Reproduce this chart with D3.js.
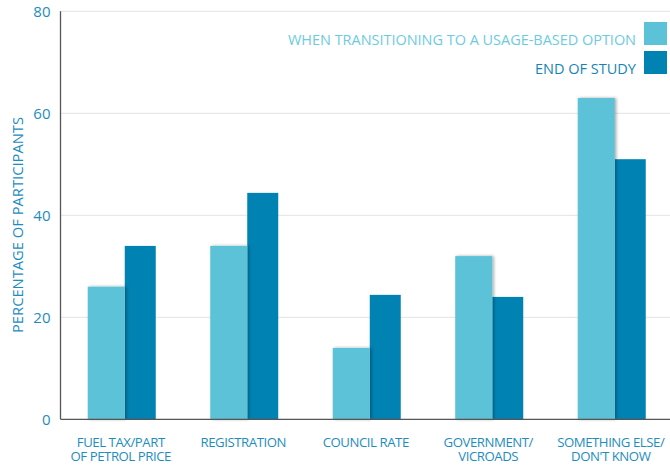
<!DOCTYPE html>
<html><head><meta charset="utf-8">
<script src="https://cdn.jsdelivr.net/npm/d3@7"></script>
<style>body{margin:0;background:#fff}svg{display:block}text{font-family:"Open Sans",sans-serif}</style>
</head><body><svg id="c" width="670" height="465"></svg>
<script>
const categories = [["FUEL TAX/PART","OF PETROL PRICE"],["REGISTRATION"],["COUNCIL RATE"],["GOVERNMENT/","VICROADS"],["SOMETHING ELSE/","DON'T KNOW"]];
const transitioning = [26, 34, 14, 32, 63];
const endOfStudy = [34, 44.4, 24.4, 24, 51];
const yTicks = [0, 20, 40, 60, 80];
const seriesNames = ["WHEN TRANSITIONING TO A USAGE-BASED OPTION", "END OF STUDY"];

(function(){
const light = "#5BC2D7", dark = "#0082B2";
const svg = d3.select("#c");
const defs = svg.append("defs");
const f = defs.append("filter").attr("id","sh").attr("x","-20%").attr("y","-5%").attr("width","150%").attr("height","110%");
f.append("feDropShadow").attr("dx",1.5).attr("dy",0).attr("stdDeviation",1.5).attr("flood-color","#000").attr("flood-opacity",0.35);

const mL = 60.5, mR = 673, mT = 11.3, mB = 419.3;
const y = d3.scaleLinear().domain([0,80]).range([mB, mT]);
const x = d3.scaleBand().domain(d3.range(categories.length)).range([mL, mR]).paddingInner(0.445).paddingOuter(0.2225);
const bw = x.bandwidth();
const lw = bw*37/68;

svg.append("g").selectAll("line").data(yTicks.slice(1)).join("line")
  .attr("x1", mL).attr("x2", 670).attr("y1", d=>y(d)).attr("y2", d=>y(d))
  .attr("stroke","#e3e3e3").attr("stroke-width",1);

const ya = svg.append("g").attr("transform",`translate(${mL},0)`)
  .call(d3.axisLeft(y).tickValues(yTicks).tickSize(0).tickPadding(10));
ya.select(".domain").remove();
ya.selectAll("text").attr("fill","#1D8DBE").attr("font-size",15).attr("font-family","'Open Sans',sans-serif");

const g = svg.append("g");
g.selectAll("rect.d").data(endOfStudy).join("rect").attr("class","d")
  .attr("x",(d,i)=>x(i)+lw).attr("width",bw-lw)
  .attr("y",d=>y(d)).attr("height",d=>mB-y(d)).attr("fill",dark);
g.selectAll("rect.l").data(transitioning).join("rect").attr("class","l")
  .attr("x",(d,i)=>x(i)).attr("width",lw)
  .attr("y",d=>y(d)).attr("height",d=>mB-y(d)).attr("fill",light).attr("filter","url(#sh)");

svg.append("line").attr("x1",mL).attr("x2",mL).attr("y1",mT).attr("y2",mB).attr("stroke","#555").attr("stroke-width",1.3);
svg.append("line").attr("x1",mL).attr("x2",670).attr("y1",mB).attr("y2",mB).attr("stroke","#555").attr("stroke-width",1.3);

const xg = svg.append("g");
categories.forEach((lines,i)=>{
  lines.forEach((t,j)=>{
    xg.append("text").attr("x",x(i)+bw/2-1).attr("y",446.5+j*14.5)
      .attr("text-anchor","middle").attr("fill","#1D8DBE").attr("font-size",13.2)
      .attr("letter-spacing",-0.45).text(t);
  });
});

svg.append("text").attr("transform","translate(23,225) rotate(-90)").attr("text-anchor","middle")
  .attr("fill","#1D8DBE").attr("font-size",14).attr("textLength",216).attr("lengthAdjust","spacingAndGlyphs")
  .text("PERCENTAGE OF PARTICIPANTS");

const leg = svg.append("g");
const lc = [light, dark], tc = ["#6CCBDF", "#1585B7"], lens = [348, 101];
seriesNames.forEach((s,i)=>{
  leg.append("rect").attr("x",644).attr("y",22+i*29).attr("width",23).attr("height",23).attr("fill",lc[i]);
  leg.append("text").attr("x",636).attr("y",45+i*28.5).attr("text-anchor","end").attr("fill",tc[i])
    .attr("font-size",15).attr("textLength",lens[i]).attr("lengthAdjust","spacingAndGlyphs").text(s);
});
})();
</script></body></html>
